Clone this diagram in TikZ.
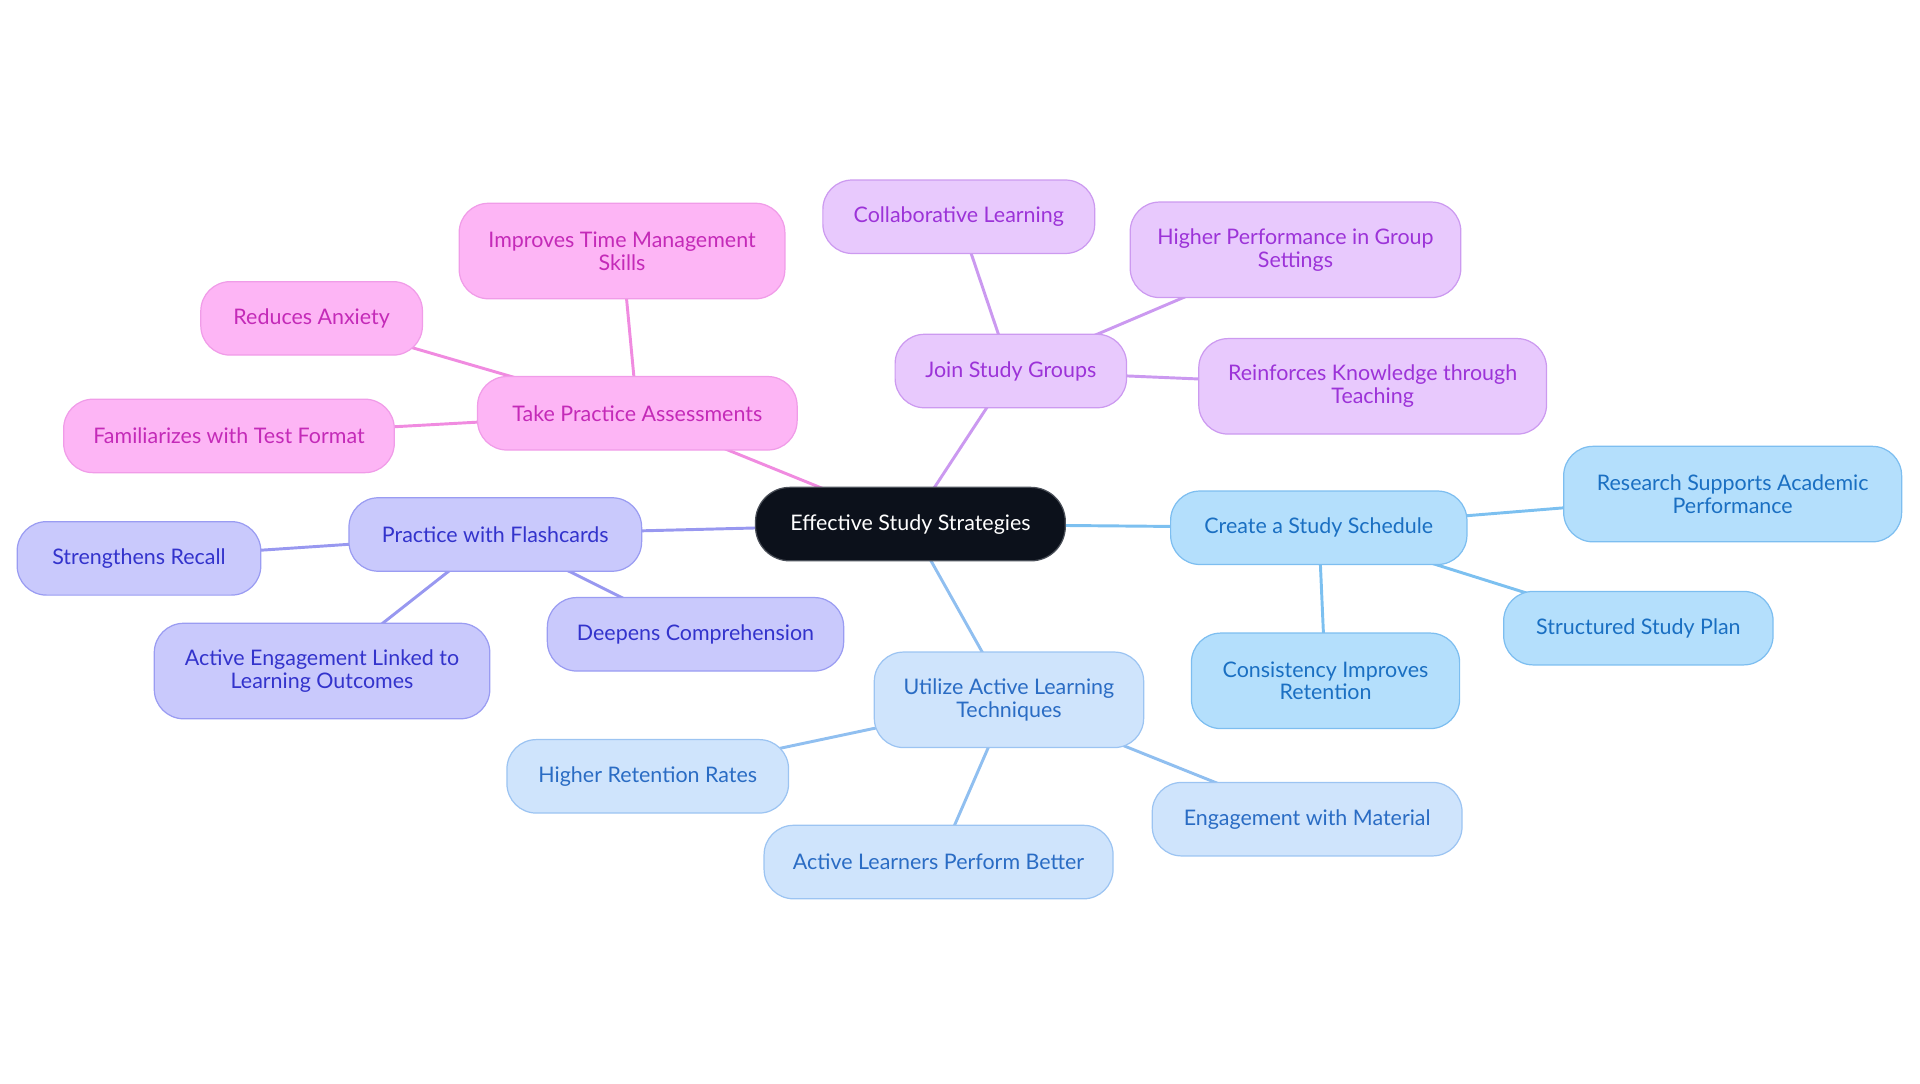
\documentclass[tikz,border=0pt]{standalone}
\usepackage{fontspec}
\setmainfont{Lato}
\usetikzlibrary{backgrounds}
\definecolor{cfill}{HTML}{0C111B}
\definecolor{cdraw}{HTML}{4A4F58}
\definecolor{bfill}{HTML}{B4DFFC}
\definecolor{bdraw}{HTML}{7DBEF0}
\definecolor{btext}{HTML}{1A6FC2}
\definecolor{bline}{HTML}{7CC0F0}
\definecolor{lfill}{HTML}{CFE4FC}
\definecolor{ldraw}{HTML}{9CC4F2}
\definecolor{ltext}{HTML}{2A6CC4}
\definecolor{lline}{HTML}{90BFF0}
\definecolor{ifill}{HTML}{C9C9FC}
\definecolor{idraw}{HTML}{9A9CF2}
\definecolor{itext}{HTML}{3333CC}
\definecolor{iline}{HTML}{9898F0}
\definecolor{pfill}{HTML}{FDB5F5}
\definecolor{pdraw}{HTML}{F09CE8}
\definecolor{ptext}{HTML}{C42AB8}
\definecolor{pline}{HTML}{F08BE0}
\definecolor{ufill}{HTML}{E8C9FD}
\definecolor{udraw}{HTML}{CC9AF0}
\definecolor{utext}{HTML}{9C33D8}
\definecolor{uline}{HTML}{CB99F0}
\tikzset{
  box/.style={rectangle, rounded corners=24pt, inner sep=0pt, align=center,
    font=\fontsize{17.5}{18.5}\selectfont, line width=1pt, minimum height=60pt},
  tall/.style={minimum height=78pt},
  central/.style={box, fill=cfill, draw=cdraw, text=white, rounded corners=28pt},
  bnode/.style={box, fill=bfill, draw=bdraw, text=btext},
  lnode/.style={box, fill=lfill, draw=ldraw, text=ltext},
  inode/.style={box, fill=ifill, draw=idraw, text=itext},
  pnode/.style={box, fill=pfill, draw=pdraw, text=ptext},
  unode/.style={box, fill=ufill, draw=udraw, text=utext},
  bconn/.style={draw=bline, line width=2.4pt},
  lconn/.style={draw=lline, line width=2.4pt},
  iconn/.style={draw=iline, line width=2.4pt},
  pconn/.style={draw=pline, line width=2.4pt},
  uconn/.style={draw=uline, line width=2.4pt},
}
\begin{document}
\begin{tikzpicture}[x=1pt,y=-1pt]
\useasboundingbox (0,0) rectangle (1568,884.45);
% central
\node[central, minimum width=253pt] (c) at (743.5,428) {Effective Study Strategies};
% blue
\node[bnode, minimum width=242pt] (b0) at (1077,431) {Create a Study Schedule};
\node[bnode, tall, minimum width=276pt] (b1) at (1415,403.5) {Research Supports Academic\\Performance};
\node[bnode, minimum width=220pt] (b2) at (1338,513) {Structured Study Plan};
\node[bnode, tall, minimum width=219pt] (b3) at (1082.5,556) {Consistency Improves\\Retention};
% light blue
\node[lnode, tall, minimum width=220pt] (l0) at (824,571.5) {Utilize Active Learning\\Techniques};
\node[lnode, minimum width=230pt] (l1) at (529,634) {Higher Retention Rates};
\node[lnode, minimum width=285pt] (l2) at (766.5,704) {Active Learners Perform Better};
\node[lnode, minimum width=253pt] (l3) at (1067.5,669) {Engagement with Material};
% indigo
\node[inode, minimum width=239pt] (i0) at (404.5,436.5) {Practice with Flashcards};
\node[inode, minimum width=199pt] (i1) at (113.5,456) {Strengthens Recall};
\node[inode, tall, minimum width=274pt] (i2) at (263,548) {Active Engagement Linked to\\Learning Outcomes};
\node[inode, minimum width=242pt] (i3) at (568,518) {Deepens Comprehension};
% pink
\node[pnode, minimum width=261pt] (p0) at (520.5,337.5) {Take Practice Assessments};
\node[pnode, tall, minimum width=266pt] (p1) at (508,205) {Improves Time Management\\Skills};
\node[pnode, minimum width=181pt] (p2) at (254.5,260) {Reduces Anxiety};
\node[pnode, minimum width=270pt] (p3) at (187,356) {Familiarizes with Test Format};
% purple
\node[unode, minimum width=189pt] (u0) at (825.5,303) {Join Study Groups};
\node[unode, minimum width=222pt] (u1) at (783,177) {Collaborative Learning};
\node[unode, tall, minimum width=270pt] (u2) at (1058,204) {Higher Performance in Group\\Settings};
\node[unode, tall, minimum width=284pt] (u3) at (1121,315.5) {Reinforces Knowledge through\\Teaching};
\begin{scope}[on background layer]
\draw[bconn] (c.center) -- (b0.center);
\draw[bconn] (b0.center) -- (b1.center);
\draw[bconn] (b0.center) -- (b2.center);
\draw[bconn] (b0.center) -- (b3.center);
\draw[lconn] (c.center) -- (l0.center);
\draw[lconn] (l0.center) -- (l1.center);
\draw[lconn] (l0.center) -- (l2.center);
\draw[lconn] (l0.center) -- (l3.center);
\draw[iconn] (c.center) -- (i0.center);
\draw[iconn] (i0.center) -- (i1.center);
\draw[iconn] (i0.center) -- (i2.center);
\draw[iconn] (i0.center) -- (i3.center);
\draw[pconn] (c.center) -- (p0.center);
\draw[pconn] (p0.center) -- (p1.center);
\draw[pconn] (p0.center) -- (p2.center);
\draw[pconn] (p0.center) -- (p3.center);
\draw[uconn] (c.center) -- (u0.center);
\draw[uconn] (u0.center) -- (u1.center);
\draw[uconn] (u0.center) -- (u2.center);
\draw[uconn] (u0.center) -- (u3.center);
\end{scope}
\end{tikzpicture}
\end{document}
